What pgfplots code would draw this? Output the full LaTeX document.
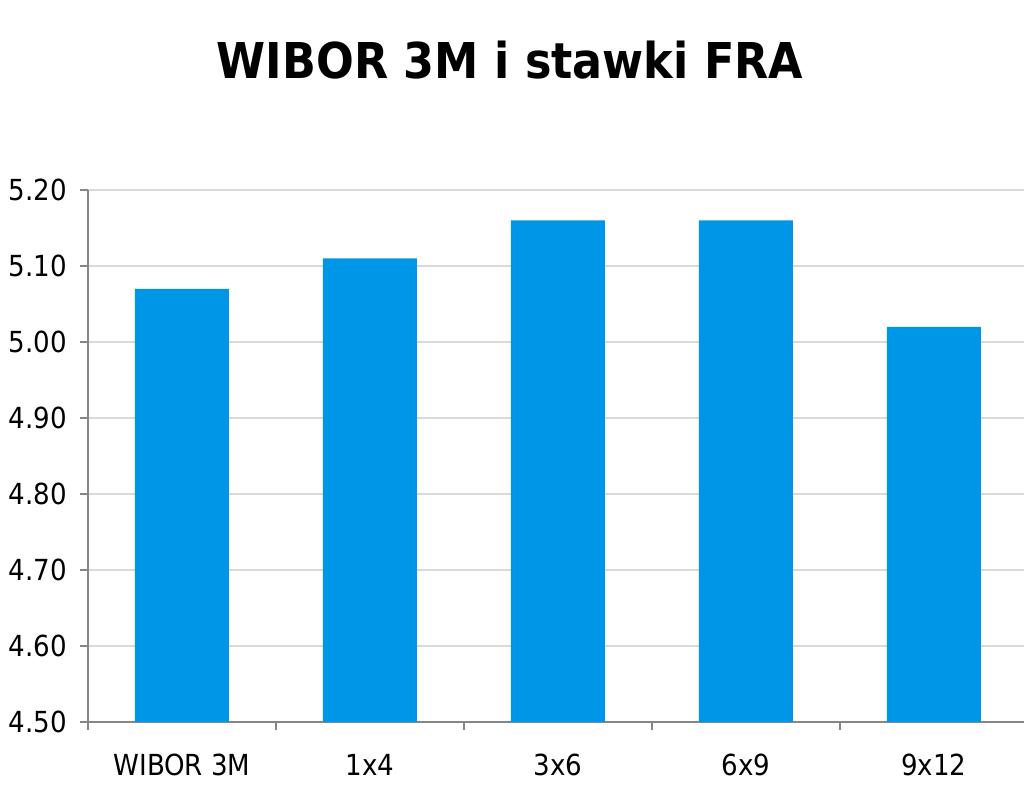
\documentclass[border=0pt]{standalone}
\usepackage{fontspec}
\setmainfont{DejaVu Sans}
\newfontfamily\condfont{DejaVu Sans Condensed}
\usepackage{pgfplots}
\pgfplotsset{compat=1.18}
\definecolor{barblue}{RGB}{0,150,232}
\definecolor{gridgray}{RGB}{217,217,217}
\definecolor{axisgray}{RGB}{134,134,134}
\begin{document}
\begin{tikzpicture}[x=0.5pt,y=0.5pt]
\begin{axis}[
  at={(0,0)}, anchor=south west,
  scale only axis,
  width=470pt, height=266pt,
  xmin=-0.5, xmax=4.5,
  ymin=4.5, ymax=5.2,
  ytick={4.5,4.6,...,5.21},
  /pgf/number format/fixed,
  /pgf/number format/fixed zerofill,
  /pgf/number format/precision=2,
  /pgf/number format/assume math mode=true,
  xtick={-0.5,0.5,1.5,2.5,3.5,4.5},
  x tick label as interval,
  xticklabels={WIBOR 3M,1x4,3x6,6x9,9x12},
  ymajorgrids,
  grid style={gridgray, line width=0.6pt},
  axis x line*=bottom,
  axis y line*=left,
  axis line style={axisgray, line width=0.6pt},
  tick style={axisgray, line width=0.6pt},
  tick align=outside,
  major tick length=4pt,
  ticklabel style={font=\condfont\fontsize{14.5}{17}\selectfont, text=black},
  xticklabel style={yshift=-8.5pt},
  yticklabel style={xshift=-3pt},
  ybar, bar width=0.5,
  clip=true,
]
\addplot[fill=barblue, draw=none] coordinates {(0,5.07) (1,5.11) (2,5.16) (3,5.16) (4,5.02)};
\end{axis}
\node[font=\condfont\bfseries\fontsize{24.7}{30}\selectfont] at (422,662) {WIBOR 3M i stawki FRA};
\pgfresetboundingbox
\path[use as bounding box] (-88,-69) rectangle (936,722);
\end{tikzpicture}
\end{document}
